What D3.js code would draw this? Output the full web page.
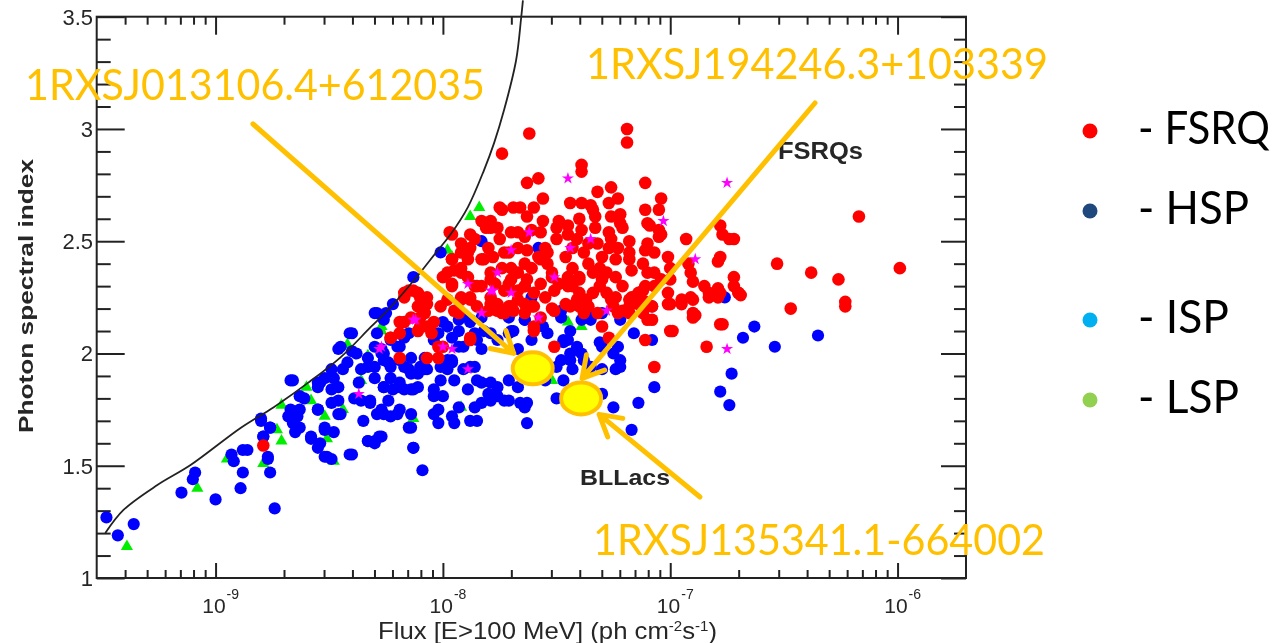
<!DOCTYPE html>
<html><head><meta charset="utf-8">
<script src="https://cdn.jsdelivr.net/npm/d3@7"></script>
<style>
html,body{margin:0;padding:0;background:#fff;}
svg{display:block;}
</style></head>
<body>
<svg id="chart" width="1282" height="643"></svg>
<script>
// ---------------- DATA (flux stored as log10 of ph cm^-2 s^-1, then photon index) ----------------
const xDomain = [3e-10, 2e-6];
const yDomain = [1, 3.5];
const xMajorTicks = [1e-9, 1e-8, 1e-7, 1e-6];
const xTickExponents = ["-9", "-8", "-7", "-6"];
const yMajorTicks = [1, 1.5, 2, 2.5, 3, 3.5];
const yTickLabels = ["1", "1.5", "2", "2.5", "3", "3.5"];

// sensitivity limit curve
const curveLogFlux = [-9.485,-9.405,-9.256,-9.110,-8.890,-8.744,-8.595,-8.449,-8.317,-8.229,-8.119,-8.022,-7.965,-7.890,-7.819,-7.775,-7.731,-7.678,-7.656,-7.648];
const curveIndex   = [1.200,1.303,1.414,1.503,1.668,1.761,1.868,1.984,2.118,2.207,2.336,2.460,2.532,2.652,2.817,2.937,3.084,3.306,3.493,3.573];

const fsrq = [
[-7.62,2.98],[-7.74,2.89],[-7.63,2.76],[-7.58,2.78],[-7.56,2.69],[-7.75,2.65],[-7.69,2.65],[-7.66,2.65],[-7.60,2.65],[-7.63,2.61],[-7.79,2.59],[-7.76,2.56],[-7.81,2.56],[-7.67,2.54],[-7.88,2.53],[-7.96,2.53],[-7.56,2.59],[-7.49,2.59],[-7.50,2.56],[-7.45,2.53],[-7.57,2.54],
[-7.19,3.00],[-7.19,2.94],[-7.39,2.84],[-7.39,2.81],[-7.11,2.76],[-7.32,2.72],[-7.26,2.74],[-7.23,2.69],[-7.44,2.67],[-7.39,2.67],[-7.35,2.66],[-7.34,2.64],[-7.27,2.67],[-7.22,2.62],[-7.22,2.58],[-7.40,2.60],[-7.45,2.57],[-7.33,2.56],[-7.11,2.64],[-7.04,2.69],[-7.05,2.64],[-7.10,2.58],[-7.26,2.51],[-7.18,2.50],[-7.04,2.53],[-6.93,2.51],[-6.78,2.57],[-6.77,2.53],[-6.72,2.51],[-7.41,2.51],
[-6.17,2.61],[-5.99,2.38],[-6.53,2.40],[-6.38,2.36],[-6.26,2.33],[-6.47,2.20],[-6.23,2.21],[-6.23,2.23],[-6.69,2.26],
[-6.78,2.43],[-6.79,2.41],[-6.72,2.34],[-6.72,2.30],[-6.70,2.27],[-6.78,2.27],[-6.79,2.25],[-6.83,2.25],[-6.85,2.30],[-6.90,2.32],[-6.91,2.36],[-6.92,2.40],[-6.90,2.24],[-6.90,2.18],[-6.95,2.22],[-7.00,2.22],[-7.01,2.27],[-7.00,2.33],[-7.00,2.38],[-7.01,2.43],[-7.07,2.45],[-7.10,2.49],[-7.05,2.52],[-7.05,2.55],[-7.09,2.57],[-7.11,2.46],[-7.12,2.40],[-7.10,2.36],[-7.07,2.36],[-7.04,2.33],[-7.07,2.30],[-7.11,2.30],[-7.14,2.27],[-7.17,2.37],[-7.18,2.42],[-7.18,2.45],[-7.23,2.47],[-7.27,2.47],[-7.24,2.42],[-7.30,2.43],[-7.31,2.38],[-7.28,2.36],[-7.24,2.34],[-7.21,2.30],[-7.18,2.24],[-7.24,2.25],[-7.28,2.27],[-7.31,2.30],[-7.34,2.27],[-7.37,2.24],[-7.36,2.21],[-7.32,2.18],[-7.25,2.21],[-7.21,2.19],[-7.18,2.18],[-7.14,2.22],[-7.11,2.23],[-7.12,2.18],[-7.34,2.36],[-7.36,2.40],[-7.38,2.45],[-7.36,2.49],[-7.32,2.49],[-7.43,2.47],[-7.46,2.43],[-7.43,2.38],[-7.40,2.34],[-7.45,2.30],[-7.40,2.27],[-7.40,2.21],[-7.38,2.18],[-7.50,2.51],[-7.55,2.47],[-7.58,2.43],[-7.54,2.40],[-7.52,2.34],[-7.57,2.31],[-7.51,2.28],[-7.55,2.25],[-7.60,2.27],[-7.64,2.30],[-7.67,2.36],[-7.64,2.40],[-7.63,2.46],[-7.67,2.47],[-7.71,2.45],[-7.74,2.38],[-7.70,2.33],[-7.73,2.28],[-7.77,2.31],[-7.79,2.36],[-7.82,2.42],[-7.80,2.47],[-7.86,2.51],[-7.89,2.45],[-7.92,2.38],[-7.89,2.34],[-7.85,2.30],[-7.88,2.24],[-7.92,2.25],[-7.96,2.30],[-7.98,2.36],[-7.96,2.42],[-7.71,2.21],[-7.67,2.24],[-7.61,2.21],[-7.64,2.18],[-7.74,2.18],[-7.79,2.22],[-7.51,2.19],[-7.46,2.22],[-7.60,2.12],[-7.51,2.03],[-7.30,2.12],[-7.27,2.07],[-7.10,2.15],[-7.00,2.10],[-6.90,2.16],[-6.84,2.03],[-6.78,2.13],[-7.07,1.94],[-7.11,2.06],
[-7.83,2.59],[-7.74,2.64],[-7.33,2.61],[-7.26,2.61],[-7.21,2.56],[-7.27,2.54],[-7.39,2.55],[-7.61,2.55],[-7.64,2.52],[-7.70,2.54],[-7.75,2.51],[-7.79,2.56],[-7.92,2.49],
[-7.44,2.21],[-7.41,2.24],[-7.43,2.30],[-7.40,2.33],[-7.30,2.33],[-7.26,2.24],[-7.23,2.18],[-7.18,2.21],[-7.17,2.25],[-7.12,2.28],[-7.08,2.21],[-7.01,2.22],[-6.95,2.24],[-6.91,2.25],[-6.83,2.27],[-6.79,2.29],[-6.70,2.27],[-6.74,2.51],[-7.08,2.15],[-6.99,2.10],[-6.89,2.17],[-6.77,2.13],
[-8.17,2.27],[-8.13,2.28],[-8.10,2.25],[-8.07,2.22],[-8.11,2.21],[-8.14,2.16],[-8.10,2.16],[-8.17,2.14],[-8.23,2.07],[-8.19,2.09],[-8.11,2.10],[-8.07,2.12],[-8.04,2.14],[-8.05,2.09],[-8.01,2.21],[-7.98,2.24],[-7.95,2.19],[-8.00,2.34],[-7.95,2.37],[-7.92,2.36],[-7.96,2.42],[-7.92,2.45],[-7.89,2.42],[-7.88,2.47],[-7.83,2.42],[-7.78,2.43],[-7.73,2.45],[-7.70,2.38],[-7.71,2.31],[-7.67,2.28],[-7.63,2.33],[-7.61,2.38],[-7.57,2.42],[-7.54,2.45],[-7.52,2.36],[-7.49,2.31],[-7.45,2.34],[-7.79,2.33],[-7.83,2.30],[-7.88,2.25],[-7.85,2.21],[-7.80,2.19],[-7.76,2.22],[-7.73,2.18],[-7.69,2.19],[-7.64,2.22],[-7.60,2.21],[-7.57,2.16],[-7.52,2.20],[-7.60,2.10],[-7.88,2.07],[-8.02,2.03],[-8.07,1.98],[-8.19,1.98],[-7.97,2.54],
[-8.79,1.59],[-8.23,2.07],[-8.19,2.14],[-8.10,2.12],[-8.02,1.98],[-8.00,2.03],[-7.88,2.06],[-7.73,2.18],[-7.76,2.19],[-7.70,2.21],[-8.08,2.18],[-8.07,2.25],[-8.17,2.25],[-8.15,2.28],[-8.11,2.27],[-7.96,2.31],[-7.92,2.24],[-7.93,2.18],[-7.86,2.30],[-7.79,2.25],[-7.64,2.30]
];

const hsp = [
[-9.48,1.27],[-9.43,1.19],[-9.36,1.24],[-9.15,1.38],[-9.10,1.44],[-9.09,1.47],[-9.00,1.35],[-8.93,1.55],[-8.92,1.52],[-8.88,1.57],[-8.88,1.47],[-8.89,1.40],[-8.80,1.70],[-8.76,1.67],[-8.79,1.63],[-8.77,1.53],[-8.76,1.47],[-8.74,1.31],[-8.67,1.88],[-8.67,1.73],[-8.66,1.69],[-8.63,1.67],[-8.65,1.65],[-8.63,1.75],[-8.61,1.80],[-8.55,1.87],[-8.55,1.75],[-8.58,1.62],[-8.55,1.58],[-8.52,1.54],[-8.49,1.53],[-8.52,1.66],[-8.48,1.65],[-8.46,1.73],[-8.49,1.78],[-8.49,1.84],[-8.46,2.02],[-8.44,1.93],[-8.40,2.01],[-8.40,2.09],[-8.40,1.55],[-8.39,1.80],[-8.37,1.87],[-8.35,1.70],[-8.33,1.61],[-8.30,1.60],[-8.28,1.63],[-8.32,1.78],[-8.30,2.18],[-8.29,2.18],[-8.33,1.94],[-8.30,1.89],[-8.26,1.85],[-8.29,1.73],[-8.26,1.73],[-8.23,1.72],[-8.20,1.73],[-8.22,1.84],[-8.19,1.87],[-8.17,1.84],[-8.14,1.84],[-8.11,1.85],[-8.14,1.91],[-8.23,1.94],[-8.26,1.97],[-8.27,2.00],[-8.14,1.67],[-8.13,1.58],[-8.09,1.48],[-8.19,1.97],[-8.20,2.03],[-8.17,2.07],[-8.14,1.98],[-8.08,1.98],[-8.08,1.93],[-8.04,1.73],[-8.02,1.69],[-8.04,1.81],[-8.00,1.81],[-8.01,1.88],[-8.01,1.94],[-7.98,1.93],[-8.02,2.09],[-8.00,2.14],[-7.96,2.07],[-7.93,2.03],[-7.96,1.72],[-7.95,1.69],[-7.93,1.76],[-7.89,1.84],[-7.88,1.70],[-7.85,1.70],[-7.86,1.76],[-7.83,1.78],[-7.80,1.82],[-7.79,1.87],[-7.76,1.81],[-7.73,1.79],[-7.71,1.88],[-7.66,1.78],[-7.64,1.76],[-7.63,1.69],[-7.63,1.78],[-7.86,1.94],[-7.85,1.88],[-7.91,1.93],[-7.96,1.97],[-7.88,2.14],[-7.93,2.15],[-7.83,2.16],[-7.71,2.16],[-7.69,2.10],[-7.64,2.15],
[-6.76,2.25],[-7.08,2.21],[-7.16,2.09],[-7.08,2.06],[-7.22,2.15],[-7.35,2.15],[-7.30,2.18],[-7.31,2.05],[-7.23,2.03],[-7.22,1.97],[-7.24,1.93],[-7.30,1.93],[-7.35,1.94],[-7.41,2.03],[-7.39,2.00],[-7.44,2.00],[-7.47,2.06],[-7.44,1.97],[-7.43,1.93],[-7.48,2.19],[-6.68,2.07],[-6.63,2.12],[-6.73,1.91],
[-6.54,2.03],[-6.35,2.08],[-6.78,1.83],[-6.74,1.77],[-7.07,1.85],[-7.14,1.78],[-7.17,1.66],[-7.55,1.88],[-7.50,1.80],[-7.30,1.82],[-7.25,1.76],
[-7.22,1.94],[-7.25,2.00],[-7.30,2.03],[-7.38,1.97],[-7.41,2.02],[-7.45,2.06],[-7.48,1.97],[-7.47,1.88],[-7.64,1.91],[-7.67,1.85],[-7.71,1.79],[-7.76,1.85],[-7.79,1.79],[-7.83,1.87],[-7.95,1.88],[-7.98,1.97],[-7.71,2.09],[-7.79,2.09],[-7.86,2.09],[-7.92,2.16],[-7.98,2.12],[-7.54,2.09],[-7.61,2.06],[-7.39,2.15],[-7.35,2.18],
[-8.26,2.15],[-8.29,2.09],[-8.23,2.06],[-8.30,2.03],[-8.26,2.00],[-8.19,2.03],[-8.15,2.09],[-8.13,2.34],[-8.01,2.45],[-8.04,2.06],[-7.93,2.10],[-7.88,2.15],[-7.91,2.03],[-7.85,2.06],[-7.96,1.96],[-7.88,1.94],[-7.83,2.02],[-7.82,2.10],[-7.76,2.06],[-7.70,2.10],[-7.67,2.02],[-7.64,2.15],[-7.56,2.12],[-7.48,2.16],[-7.44,2.10],[-7.47,2.05],[-7.50,1.94],[-7.58,2.47],[-7.61,2.25],[-7.83,2.50],[-8.10,1.94],[-8.17,1.94],[-8.41,2.09],[-8.45,2.03],[-8.52,1.89],[-8.22,2.22],[-8.25,2.18],
[-8.38,2.00],[-8.33,1.98],[-8.27,2.02],[-8.24,1.96],[-8.30,1.94],[-8.36,1.93],[-8.42,1.96],[-8.49,1.93],[-8.48,1.89],[-8.54,1.87],[-8.55,1.85],[-8.46,1.85],[-8.66,1.88],[-8.63,1.81],[-8.67,1.75],[-8.64,1.72],[-8.68,1.72],[-8.55,1.75],[-8.46,1.79],[-8.45,1.73],[-8.52,1.67],[-8.58,1.63],[-8.54,1.60],[-8.51,1.54],[-8.41,1.55],[-8.33,1.61],[-8.30,1.61],[-8.27,1.63],[-8.36,1.79],[-8.32,1.79],[-8.27,1.75],[-8.24,1.79],[-8.19,1.75],[-8.14,1.73],[-8.15,1.67],[-8.13,1.58],[-8.26,1.85],[-8.19,1.85],[-8.13,1.84],[-8.23,1.89],[-8.15,1.93],[-8.11,1.91],[-8.07,1.93],[-8.04,1.84],[-8.02,1.75],[-8.80,1.71],[-8.76,1.67],[-8.79,1.63],[-8.77,1.54],[-8.86,1.57]
];

const lsp = [
[-9.39,1.14],[-9.08,1.40],[-8.95,1.53],[-8.79,1.51],[-8.71,1.61],[-8.73,1.66],[-8.71,1.77],[-8.60,1.85],[-8.58,1.79],[-8.52,1.72],[-8.51,1.62],[-8.48,1.52],[-8.44,1.75],[-8.42,2.04],[-8.33,1.99],[-8.27,2.12],[-8.13,1.71],[-8.36,1.88],[-7.92,1.76],[-7.88,2.61],[-7.84,2.65],[-7.45,2.14],[-7.39,2.12],[-7.98,2.46],[-8.27,2.10],[-7.98,1.97],[-7.96,2.43],[-7.52,1.88]
];

const isp = [
[-8.28,2.02],[-8.37,1.82],[-8.12,2.15],[-8.00,2.03],[-7.89,1.93],[-7.79,2.28],[-7.70,2.27],[-7.45,2.78],[-7.62,2.54],[-6.75,2.76],[-7.03,2.59],[-7.35,2.51],[-6.75,2.02],[-6.89,2.42],[-7.28,2.19],
[-7.76,2.36],[-7.89,2.31],[-8.13,2.15],[-8.27,2.03],[-7.83,2.18],[-7.58,2.16],[-7.51,2.34],[-7.70,2.46],[-7.44,2.47],[-7.78,2.28],[-7.96,2.02]
];

// highlighted sources
const highlightNames = ["1RXSJ013106.4+612035", "1RXSJ194246.3+103339", "1RXSJ135341.1-664002"];
const highlightLogFlux = [-7.605, -7.392, -7.392];
const highlightIndex = [1.934, 1.800, 1.800];

const legendLabels = ["- FSRQ", "- HSP", "- ISP", "- LSP"];
const legendColors = ["#ff0000", "#1f497d", "#00b0f0", "#92d050"];

// ---------------- DRAWING ----------------
const svg = d3.select("#chart");
const L = 96.7, R = 966, T = 16.7, B = 578;
const x = d3.scaleLog().domain(xDomain).range([L, R]);
const y = d3.scaleLinear().domain(yDomain).range([B, T]);
const px = d => x(Math.pow(10, d[0]));
const py = d => y(d[1]);

const defs = svg.append("defs");
defs.append("filter").attr("id", "soft").append("feGaussianBlur").attr("stdDeviation", 0.55);
defs.append("filter").attr("id", "softText").append("feGaussianBlur").attr("stdDeviation", 0.35);

// minor ticks
const xMinor = [];
for (let e = -10; e <= -6; e++) for (let m = 2; m <= 9; m++) {
  const v = m * Math.pow(10, e);
  if (v > xDomain[0] * 1.01 && v < xDomain[1] * 0.99) xMinor.push(v);
}
const yMinor = d3.range(11, 35).map(v => v / 10).filter(v => Math.abs(v * 2 - Math.round(v * 2)) > 1e-6);

const axesG = svg.append("g").style("color", "#222");
function addAxis(gen, transform, vals, size) {
  const g = axesG.append("g").attr("transform", transform)
    .call(gen.tickValues(vals).tickSize(size).tickFormat(""));
  g.select(".domain").remove();
  g.selectAll(".tick line").attr("stroke-width", 2);
}
addAxis(d3.axisBottom(x), `translate(0,${B})`, xMajorTicks, -15);
addAxis(d3.axisBottom(x), `translate(0,${B})`, xMinor, -8);
addAxis(d3.axisTop(x), `translate(0,${T})`, xMajorTicks, -18);
addAxis(d3.axisTop(x), `translate(0,${T})`, xMinor, -8);
addAxis(d3.axisLeft(y), `translate(${L},0)`, yMajorTicks, -28);
addAxis(d3.axisLeft(y), `translate(${L},0)`, yMinor, -14);
addAxis(d3.axisRight(y), `translate(${R},0)`, yMajorTicks, -25);
addAxis(d3.axisRight(y), `translate(${R},0)`, yMinor, -12);

axesG.append("rect").attr("x", L).attr("y", T).attr("width", R - L).attr("height", B - T)
  .attr("fill", "none").attr("stroke", "#222").attr("stroke-width", 2);

// tick labels
const lab = svg.append("g").attr("font-family", "'Liberation Sans', Arial, sans-serif").attr("fill", "#262626").attr("filter", "url(#softText)");
yMajorTicks.forEach((v, i) => {
  lab.append("text").attr("x", 93).attr("y", y(v) + 8).attr("text-anchor", "end")
    .attr("font-size", 22).text(yTickLabels[i]);
});
xMajorTicks.forEach((v, i) => {
  lab.append("text").attr("x", x(v) + 10).attr("y", 613).attr("text-anchor", "end")
    .attr("font-size", 21).text("10");
  lab.append("text").attr("x", x(v) + 11).attr("y", 599)
    .attr("font-size", 14).text(xTickExponents[i]);
});
// axis titles
const xt = lab.append("text").attr("x", 378).attr("y", 639).attr("font-size", 24)
  .attr("textLength", 339).attr("lengthAdjust", "spacingAndGlyphs");
xt.append("tspan").text("Flux [E>100 MeV] (ph cm");
xt.append("tspan").attr("font-size", 14).attr("dy", -8).text("-2");
xt.append("tspan").attr("dy", 8).text("s");
xt.append("tspan").attr("font-size", 14).attr("dy", -8).text("-1");
xt.append("tspan").attr("dy", 8).text(")");
lab.append("text").attr("transform", `translate(33,296) rotate(-90)`).attr("text-anchor", "middle")
  .attr("font-size", 21).attr("font-weight", "bold").attr("textLength", 274).attr("lengthAdjust", "spacingAndGlyphs")
  .text("Photon spectral index");
lab.append("text").attr("x", 778).attr("y", 159).attr("font-size", 23).attr("font-weight", "bold")
  .attr("textLength", 85).attr("lengthAdjust", "spacingAndGlyphs").text("FSRQs");
lab.append("text").attr("x", 580).attr("y", 485).attr("font-size", 22).attr("font-weight", "bold")
  .attr("textLength", 90).attr("lengthAdjust", "spacingAndGlyphs").text("BLLacs");

// points
const pts = svg.append("g").attr("filter", "url(#soft)");
pts.selectAll("path.lsp").data(lsp).join("path").attr("class", "lsp")
  .attr("transform", d => `translate(${px(d)},${py(d)})`)
  .attr("d", d3.symbol().type(d3.symbolTriangle).size(64)).attr("fill", "#00ee00");
pts.selectAll("circle.hsp").data(hsp).join("circle").attr("class", "hsp")
  .attr("cx", px).attr("cy", py).attr("r", 6.1).attr("fill", "#0000ff");
pts.selectAll("circle.fsrq").data(fsrq).join("circle").attr("class", "fsrq")
  .attr("cx", px).attr("cy", py).attr("r", 6.3).attr("fill", "#ff0000");
pts.selectAll("path.isp").data(isp).join("path").attr("class", "isp")
  .attr("transform", d => `translate(${px(d)},${py(d)})`)
  .attr("d", d3.symbol().type(d3.symbolStar).size(45)).attr("fill", "#ff00ff");

// limit curve
const curveData = curveLogFlux.map((f, i) => [f, curveIndex[i]]);
svg.append("path").datum(curveData)
  .attr("d", d3.line().x(px).y(py).curve(d3.curveCatmullRom.alpha(0.5)))
  .attr("fill", "none").attr("stroke", "#222").attr("stroke-width", 1.8);

// annotations
const orange = "#ffc000";
const annText = [[25, 100, 460], [586, 79, 462], [593, 555, 452]];
const arrowStart = [[253, 124], [815, 103], [700, 497]];
const tipOffset = [[-19, -15], [1, -20], [18, 16]];
const ann = svg.append("g");
highlightNames.forEach((name, i) => {
  const cx = x(Math.pow(10, highlightLogFlux[i])), cy = y(highlightIndex[i]);
  const tx = cx + tipOffset[i][0], ty = cy + tipOffset[i][1];
  const [sx, sy] = arrowStart[i];
  const ang = Math.atan2(sy - ty, sx - tx);
  const wing = 24, spread = 0.52;
  const p = d3.path();
  p.moveTo(sx, sy); p.lineTo(tx, ty);
  p.moveTo(tx + wing * Math.cos(ang + spread), ty + wing * Math.sin(ang + spread));
  p.lineTo(tx, ty);
  p.lineTo(tx + wing * Math.cos(ang - spread), ty + wing * Math.sin(ang - spread));
  ann.append("path").attr("d", p.toString()).attr("fill", "none").attr("stroke", orange)
    .attr("stroke-width", 5).attr("stroke-linecap", "round").attr("stroke-linejoin", "round");
});
const uniq = [0, 1];
uniq.forEach(i => {
  ann.append("ellipse").attr("cx", x(Math.pow(10, highlightLogFlux[i]))).attr("cy", y(highlightIndex[i]))
    .attr("rx", 20).attr("ry", 16).attr("fill", "#ffff00").attr("stroke", orange).attr("stroke-width", 4);
});
highlightNames.forEach((name, i) => {
  ann.append("text").attr("x", annText[i][0]).attr("y", annText[i][1])
    .attr("font-family", "Lato, 'Open Sans', sans-serif").attr("font-size", 42).attr("fill", orange)
    .attr("textLength", annText[i][2]).attr("lengthAdjust", "spacingAndGlyphs").text(name);
});

// legend
const legY = [131, 211, 320, 400];
const legW = [132, 111, 91, 101];
const leg = svg.append("g");
legendLabels.forEach((t, i) => {
  leg.append("circle").attr("cx", 1090).attr("cy", legY[i]).attr("r", 7.5).attr("fill", legendColors[i]);
  leg.append("text").attr("x", 1138).attr("y", legY[i] + 13).attr("font-family", "Lato, 'Open Sans', sans-serif")
    .attr("font-size", 46).attr("fill", "#000").attr("textLength", legW[i]).attr("lengthAdjust", "spacingAndGlyphs").text(t);
});
</script>
</body></html>
